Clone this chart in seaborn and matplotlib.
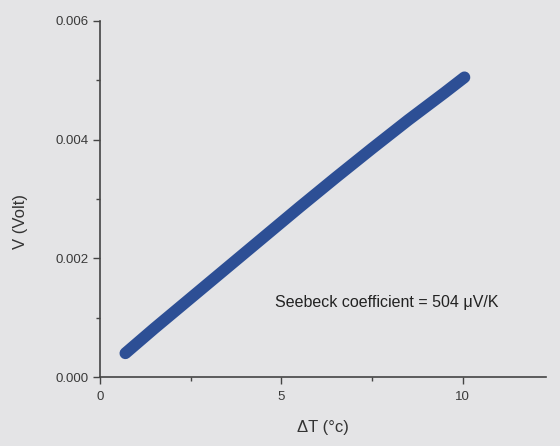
import numpy as np
import pandas as pd
import matplotlib.pyplot as plt
import seaborn as sns

# values
delta_t = [0.7, 1.5, 2.5, 3.5, 4.5, 5.5, 6.5, 7.5, 8.5, 9.5, 10.05]
volts = [0.00040, 0.00082, 0.00133, 0.00184, 0.00235, 0.00286, 0.00336, 0.00385, 0.00433, 0.00479, 0.00505]
x_ticks = [0, 5, 10]
y_ticks = [0.000, 0.002, 0.004, 0.006]
note = "Seebeck coefficient = 504 μV/K"

df = pd.DataFrame({"dT": delta_t, "V": volts})

sns.set_style("ticks")
plt.rcParams["font.family"] = ["Liberation Sans", "DejaVu Sans"]
paper = "#e4e4e6"
fig = plt.figure(figsize=(5.6, 4.46), dpi=100, facecolor=paper)
ax = fig.add_axes([0.1786, 0.1547, 0.7964, 0.7983])
ax.set_facecolor(paper)

sns.lineplot(x="dT", y="V", data=df, color="#2d4f95", linewidth=8.5,
             solid_capstyle="round", ax=ax)

ax.set_xlim(0, 12.3)
ax.set_ylim(0, 0.006)
ax.set_xticks(x_ticks)
ax.set_yticks(y_ticks)
ax.set_xticklabels([str(t) for t in x_ticks])
ax.set_yticklabels(["%.3f" % t for t in y_ticks])
ax.set_xticks([2.5, 7.5], minor=True)
ax.set_yticks([0.001, 0.003, 0.005], minor=True)
ax.tick_params(axis="both", which="major", length=5, width=1, colors="#444444",
               labelsize=9.5, labelcolor="#3a3a3a", direction="out", pad=3)
ax.tick_params(axis="x", which="major", pad=5)
ax.tick_params(axis="both", which="minor", length=3, width=1, colors="#444444")
for s in ["top", "right"]:
    ax.spines[s].set_visible(False)
for s in ["left", "bottom"]:
    ax.spines[s].set_color("#444444")
    ax.spines[s].set_linewidth(1.2)

ax.set_xlabel("ΔT (°c)", fontsize=12, color="#333333", labelpad=12)
ax.set_ylabel("V (Volt)", fontsize=12, color="#333333")
ax.yaxis.set_label_coords(-0.162, 0.438)
ax.text(4.83, 0.00126, note, fontsize=11.5, color="#222222", va="center")

fig.savefig("out.png", dpi=100, facecolor=paper)
